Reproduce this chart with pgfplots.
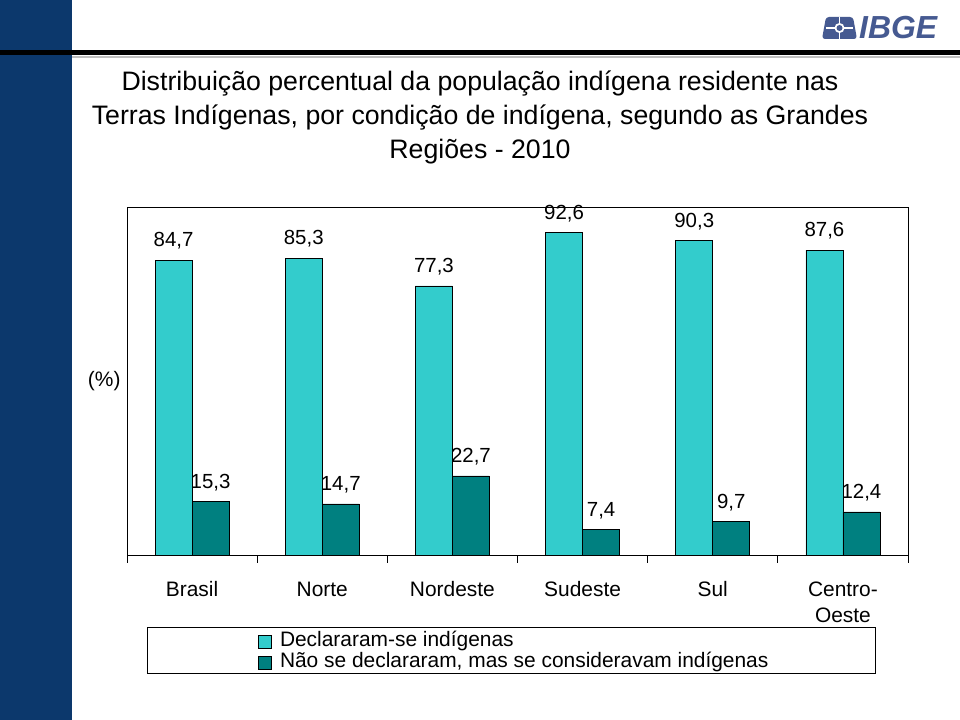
\documentclass[border=0pt]{standalone}
\usepackage{pgfplots}
\pgfplotsset{compat=1.18}
\usepackage{fontspec}
\setmainfont{Liberation Sans}
\definecolor{navy}{RGB}{12,56,108}
\definecolor{lightc}{RGB}{51,204,204}
\definecolor{darkc}{RGB}{0,128,128}
\definecolor{logo}{RGB}{70,90,145}
\begin{document}
\begin{tikzpicture}[x=1bp,y=1bp]
\fill[white] (0,0) rectangle (960,720);
\fill[navy] (0,0) rectangle (72,720);
\fill[black] (0,665) rectangle (960,670);
\fill[gray!50] (72,662) rectangle (960,663.5);
% logo
\fill[logo, rounded corners=3bp] (822,681) -- (857,681) -- (853,703) -- (826,703) -- cycle;
\fill[white] (839.5,692) circle (5);
\draw[white, line width=1.2bp] (826,692) -- (853,692);
\draw[white, line width=1.2bp] (839.5,681) -- (839.5,703);
\fill[logo] (839.5,692) circle (3);
\node[font=\fontsize{32}{32}\selectfont\bfseries\itshape, text=logo, anchor=west, inner sep=0pt] at (859,692) {IBGE};
% title
\node[font=\fontsize{26.8}{26.8}\selectfont, anchor=base, inner sep=0pt] at (480,629) {Distribuição percentual da população indígena residente nas};
\node[font=\fontsize{26.8}{26.8}\selectfont, anchor=base, inner sep=0pt] at (480,595) {Terras Indígenas, por condição de indígena, segundo as Grandes};
\node[font=\fontsize{26.8}{26.8}\selectfont, anchor=base, inner sep=0pt] at (480,561) {Regiões - 2010};
\begin{axis}[
  at={(127bp,165bp)}, anchor=south west,
  scale only axis, width=781bp, height=348bp,
  ymin=0, ymax=100, xmin=-0.5, xmax=5.5,
  ybar=0pt, bar width=37bp,
  axis line style={black, line width=0.8bp},
  xtick={0,...,5},
  xticklabels={Brasil,Norte,Nordeste,Sudeste,Sul,Centro-\\Oeste},
  major x tick style={draw=none},
  minor xtick={-0.5,0.5,...,5.5},
  minor tick length=8bp,
  minor x tick style={black, line width=0.8bp},
  tick align=outside,
  xtick pos=lower,
  ytick=\empty,
  typeset ticklabels with strut,
  xticklabel style={font=\fontsize{21}{26}\selectfont, align=center, yshift=-16bp},
  every axis y label/.style={at={(rel axis cs:0,0.5)}, anchor=east, xshift=-3bp, font=\fontsize{21}{21}\selectfont},
  ylabel={(\%)},
  nodes near coords,
  every node near coord/.append style={font=\fontsize{20.5}{20.5}\selectfont, yshift=7bp, black},
  /pgf/number format/.cd, use comma, fixed, fixed zerofill, precision=1, assume math mode=true,
  /pgfplots/.cd,
  legend style={at={(rel axis cs:0.168,-0.219)}, anchor=north west, draw=none, fill=none,
    font=\fontsize{21}{21}\selectfont, row sep=0pt, inner sep=0pt,
    nodes={inner ysep=1bp, inner xsep=3bp, text height=14bp, text depth=5bp}},
  legend cell align=left,
  legend image code/.code={\draw[#1, draw=black, line width=0.6bp] (0bp,-6bp) rectangle (13bp,7bp); \path (18bp,0bp);},
]
\addplot[fill=lightc, draw=black, line width=0.6bp] coordinates {(0,84.7) (1,85.3) (2,77.3) (3,92.6) (4,90.3) (5,87.6)};
\addplot[fill=darkc, draw=black, line width=0.6bp] coordinates {(0,15.3) (1,14.7) (2,22.7) (3,7.4) (4,9.7) (5,12.4)};
\legend{Declararam-se indígenas, {Não se declararam, mas se consideravam indígenas}}
\end{axis}
\draw[black, line width=0.8bp] (147,47) rectangle (875,93);
\end{tikzpicture}
\end{document}
